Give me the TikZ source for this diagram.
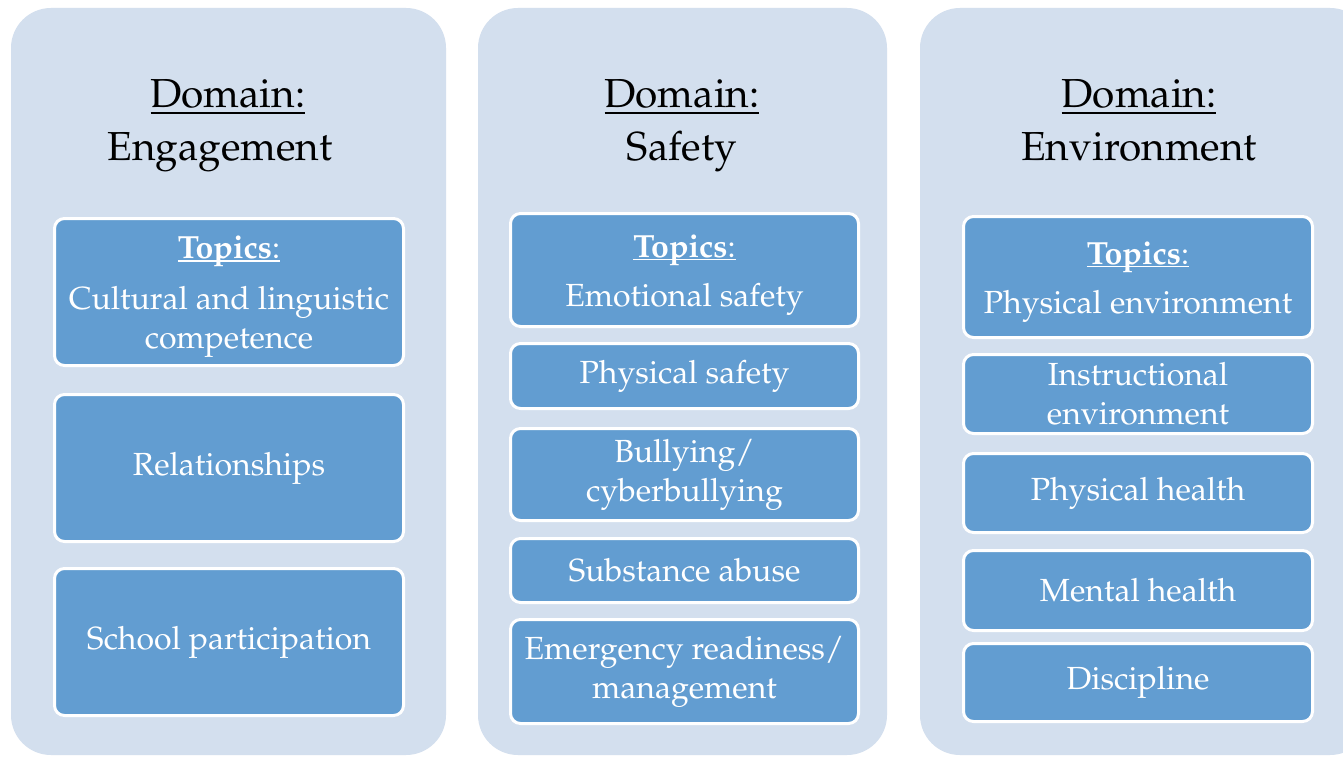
\documentclass[tikz,border=0pt]{standalone}
\usepackage[T1]{fontenc}
\usepackage{mathpazo}
\definecolor{panelbg}{RGB}{211,223,238}
\definecolor{boxbg}{RGB}{98,157,209}
\newcommand{\myul}[3]{{\setbox0\hbox{#1}\rlap{\rule[#2]{\wd0}{#3}}\box0}}
\newcommand{\topichead}{\raisebox{0pt}[\dimexpr\height+10pt\relax]{\myul{\textbf{Topics}:}{-3pt}{1.5pt}}}
\begin{document}
\begin{tikzpicture}[x=1pt,y=-1pt,
  panel/.style={fill=panelbg,draw=none,rounded corners=40pt,inner sep=0pt},
  topic/.style={fill=boxbg,draw=white,line width=3pt,rounded corners=10pt,text=white,align=center,
    font=\fontsize{32}{39}\selectfont,inner sep=0pt},
  head/.style={font=\fontsize{40.5}{48}\selectfont,anchor=base,text=black,inner sep=0pt}]
\fill[white] (0,0) rectangle (1343,757);
\useasboundingbox (0,0) rectangle (1343,757);
\begin{scope}
\clip (0,0) rectangle (1343,757);
% panels
\node[panel,minimum width=435pt,minimum height=747pt] (p1) at (228.5,381.5) {};
\node[panel,minimum width=409pt,minimum height=747pt] (p2) at (682.5,381.5) {};
\node[panel,minimum width=450pt,minimum height=747pt] (p3) at (1145,381.5) {};
\end{scope}
% headings
\node[head] (h1a) at (228,108) {\myul{Domain:}{-6pt}{2pt}};
\node[head] (h1b) at (220,160) {Engagement};
\node[head] (h2a) at (682,108) {\myul{Domain:}{-6pt}{2pt}};
\node[head] (h2b) at (682,160) {Safety};
\node[head] (h3a) at (1139,108) {\myul{Domain:}{-6pt}{2pt}};
\node[head] (h3b) at (1139,160) {Environment};
% panel 1 boxes
\node[topic,minimum width=349pt,minimum height=147pt] (e1) at (229,292) {\topichead\\[12pt]Cultural and linguistic\\competence};
\node[topic,minimum width=349pt,minimum height=147pt] (e2) at (229,468) {Relationships};
\node[topic,minimum width=349pt,minimum height=147pt] (e3) at (229,642) {School participation};
% panel 2 boxes
\node[topic,minimum width=348pt,minimum height=113pt] (s1) at (684.5,270) {\topichead\\[10pt]Emotional safety};
\node[topic,minimum width=348pt,minimum height=65pt] (s2) at (684.5,376) {Physical safety};
\node[topic,minimum width=348pt,minimum height=92pt] (s3) at (684.5,474.5) {Bullying/\\cyberbullying};
\node[topic,minimum width=348pt,minimum height=64pt] (s4) at (684.5,570.5) {Substance abuse};
\node[topic,minimum width=348pt,minimum height=104pt] (s5) at (684.5,671.5) {Emergency readiness/\\management};
% panel 3 boxes
\node[topic,minimum width=349pt,minimum height=121pt] (v1) at (1138,277) {\topichead\\[10pt]Physical environment};
\node[topic,minimum width=349pt,minimum height=79pt] (v2) at (1138,394) {Instructional\\environment};
\node[topic,minimum width=349pt,minimum height=79pt] (v3) at (1138,493) {Physical health};
\node[topic,minimum width=349pt,minimum height=80pt] (v4) at (1138,590.5) {Mental health};
\node[topic,minimum width=349pt,minimum height=78pt] (v5) at (1138,682.5) {Discipline};
\end{tikzpicture}
\end{document}
